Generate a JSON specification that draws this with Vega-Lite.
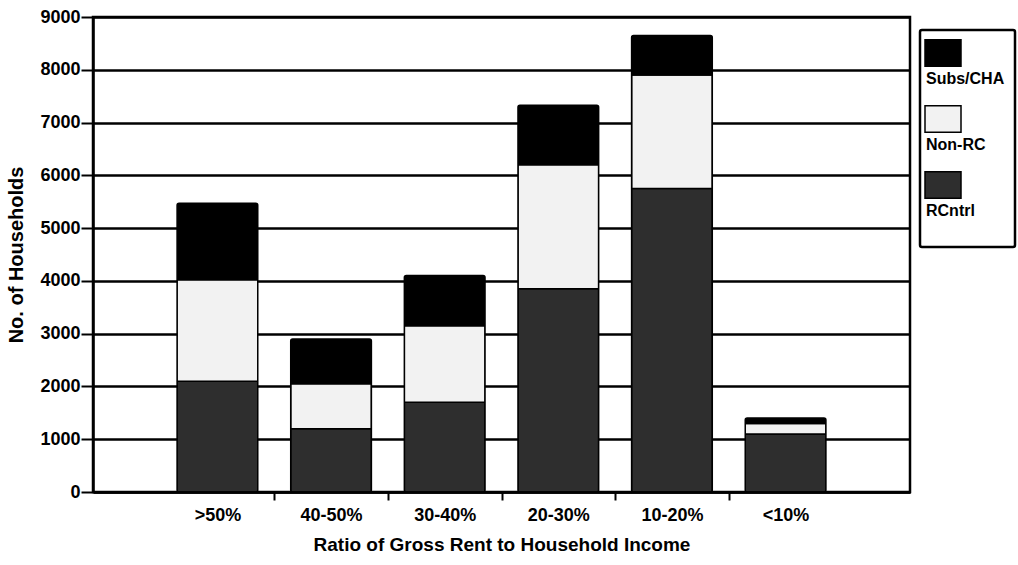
{
  "$schema": "https://vega.github.io/schema/vega-lite/v6.json",
  "autosize": "none",
  "width": 817,
  "height": 475,
  "padding": {"left": 93, "top": 17, "right": 108, "bottom": 73},
  "background": "white",
  "data": {
    "values": [
      {"ratio": ">50%", "series": "RCntrl", "households": 2100},
      {"ratio": ">50%", "series": "Non-RC", "households": 1920},
      {"ratio": ">50%", "series": "Subs/CHA", "households": 1450},
      {"ratio": "40-50%", "series": "RCntrl", "households": 1200},
      {"ratio": "40-50%", "series": "Non-RC", "households": 850},
      {"ratio": "40-50%", "series": "Subs/CHA", "households": 850},
      {"ratio": "30-40%", "series": "RCntrl", "households": 1700},
      {"ratio": "30-40%", "series": "Non-RC", "households": 1450},
      {"ratio": "30-40%", "series": "Subs/CHA", "households": 950},
      {"ratio": "20-30%", "series": "RCntrl", "households": 3850},
      {"ratio": "20-30%", "series": "Non-RC", "households": 2350},
      {"ratio": "20-30%", "series": "Subs/CHA", "households": 1130},
      {"ratio": "10-20%", "series": "RCntrl", "households": 5750},
      {"ratio": "10-20%", "series": "Non-RC", "households": 2150},
      {"ratio": "10-20%", "series": "Subs/CHA", "households": 750},
      {"ratio": "<10%", "series": "RCntrl", "households": 1100},
      {"ratio": "<10%", "series": "Non-RC", "households": 200},
      {"ratio": "<10%", "series": "Subs/CHA", "households": 100}
    ]
  },
  "transform": [
    {"calculate": "indexof(['RCntrl','Non-RC','Subs/CHA'], datum.series)", "as": "stackRank"}
  ],
  "mark": {"type": "bar", "stroke": "black", "strokeWidth": 1.5, "cornerRadius": 2},
  "encoding": {
    "x": {
      "field": "ratio",
      "type": "nominal",
      "sort": [">50%", "40-50%", "30-40%", "20-30%", "10-20%", "<10%"],
      "scale": {"paddingInner": 0.29, "paddingOuter": 0.74},
      "axis": {
        "title": "Ratio of Gross Rent to Household Income",
        "labelAngle": 0,
        "tickSize": 8,
        "tickOffset": -56.8,
        "labelOffset": 56.8,
        "tickOpacity": {"condition": {"test": "datum.value === '>50%'", "value": 0}, "value": 1},
        "labelPadding": 6,
        "titleFontSize": 19,
        "titlePadding": 11
      }
    },
    "y": {
      "field": "households",
      "type": "quantitative",
      "aggregate": "sum",
      "stack": "zero",
      "scale": {"domain": [0, 9000], "nice": false},
      "axis": {
        "title": "No. of Households",
        "values": [0, 1000, 2000, 3000, 4000, 5000, 6000, 7000, 8000, 9000],
        "format": "d",
        "grid": true,
        "tickSize": 12,
        "labelPadding": 1,
        "titleFontSize": 20,
        "titlePadding": 13
      }
    },
    "color": {
      "field": "series",
      "type": "nominal",
      "sort": ["Subs/CHA", "Non-RC", "RCntrl"],
      "scale": {"domain": ["Subs/CHA", "Non-RC", "RCntrl"], "range": ["#000000", "#f2f2f2", "#2e2e2e"]},
      "legend": {
        "title": null,
        "orient": "none",
        "legendX": 827,
        "legendY": 13,
        "labelExpr": "['', '', datum.label]"
      }
    },
    "order": {"field": "stackRank", "type": "quantitative", "sort": "ascending"}
  },
  "config": {
    "font": "Liberation Sans",
    "view": {"stroke": "black", "strokeWidth": 2.5},
    "axis": {
      "domainColor": "black",
      "domainWidth": 2.5,
      "tickColor": "black",
      "tickWidth": 2,
      "gridColor": "black",
      "gridWidth": 2.5,
      "gridOpacity": 1,
      "labelFont": "Liberation Sans",
      "labelFontSize": 18,
      "labelFontWeight": "bold",
      "labelColor": "black",
      "titleFont": "Liberation Sans",
      "titleFontSize": 18,
      "titleFontWeight": "bold",
      "titleColor": "black"
    },
    "axisX": {"grid": false},
    "legend": {
      "strokeColor": "black",
      "strokeWidth": 2.5,
      "fillColor": "white",
      "padding": 10,
      "cornerRadius": 2,
      "symbolType": "M-1.5,-1.1H1.5V1.1H-1.5Z",
      "symbolSize": 576,
      "symbolStrokeColor": "black",
      "symbolStrokeWidth": 1.5,
      "symbolOpacity": 1,
      "labelFont": "Liberation Sans",
      "labelFontSize": 16,
      "labelFontWeight": "bold",
      "labelColor": "black",
      "labelBaseline": "top",
      "labelOffset": -30,
      "rowPadding": -3
    }
  }
}
